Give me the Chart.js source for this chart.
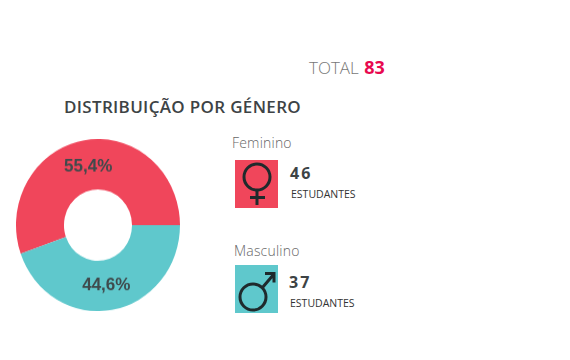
<!DOCTYPE html>
<html lang="pt">
<head>
<meta charset="utf-8">
<title>Distribuição por género</title>
<script src="https://cdn.jsdelivr.net/npm/chart.js@4"></script>
<style>
html, body { margin: 0; padding: 0; background: #fff; }
#page { position: relative; width: 570px; height: 360px; overflow: hidden; font-family: "Open Sans", sans-serif; }
#page div { position: absolute; white-space: nowrap; }
#donut { position: absolute; left: 16px; top: 139px; transform-origin: 0 0; transform: scaleY(1.05); }
#total { left: 309px; top: 55px; font-size: 17px; font-weight: 300; color: #777; }
#total b { color: #e8094f; font-weight: 700; font-size: 18px; margin-left: 1px; }
#title { left: 64px; top: 95px; font-size: 17px; font-weight: 600; color: #3d4345; letter-spacing: 0.33px; }
.name { font-size: 14px; font-weight: 300; color: #666; letter-spacing: 0.2px; }
.box { width: 43px; height: 48px; }
.box svg { display: block; }
.count { font-size: 16px; font-weight: 700; color: #3d4345; letter-spacing: 2px; }
.unit { font-size: 10.5px; color: #333; }
</style>
</head>
<body>
<div id="page">
  <canvas id="donut" width="164" height="164"></canvas>
  <div id="total"></div>
  <div id="title"></div>

  <div class="name" id="name0" style="left:232px;top:133px"></div>
  <div class="box" id="box0" style="left:235px;top:160px">
    <svg width="43" height="48" viewBox="0 0 43 48" fill="none" stroke="#1f2a2c" stroke-width="3">
      <circle cx="22" cy="17" r="13"></circle>
      <path d="M22 30V45M15 37.5H30"></path>
    </svg>
  </div>
  <div class="count" id="count0" style="left:290px;top:162px"></div>
  <div class="unit" id="unit0" style="left:291px;top:187px"></div>

  <div class="name" id="name1" style="left:234px;top:241px"></div>
  <div class="box" id="box1" style="left:235px;top:265px">
    <svg width="43" height="48" viewBox="0 0 43 48" fill="none" stroke="#1f2a2c" stroke-width="3">
      <circle cx="18" cy="32" r="13"></circle>
      <path d="M27.5 22.5L39 9M30 8.5H39V17.5"></path>
    </svg>
  </div>
  <div class="count" id="count1" style="left:289px;top:271px"></div>
  <div class="unit" id="unit1" style="left:290px;top:296px"></div>
</div>
<script>
const categories = ['Feminino', 'Masculino'];
const students = [46, 37];
const colors = ['#f0465b', '#5fc8cc'];
const titleText = 'DISTRIBUIÇÃO POR GÉNERO';
const unitText = 'ESTUDANTES';
const total = 83;

document.getElementById('total').innerHTML = 'TOTAL <b>' + total + '</b>';
document.getElementById('title').textContent = titleText;
categories.forEach((name, i) => {
    document.getElementById('name' + i).textContent = name;
    document.getElementById('box' + i).style.background = colors[i];
    document.getElementById('count' + i).textContent = students[i];
    document.getElementById('unit' + i).textContent = unitText;
});

// percentages sit in the middle of each ring segment
const percentLabels = {
    id: 'percentLabels',
    afterDatasetsDraw(chart) {
        const ctx = chart.ctx;
        const arcs = chart.getDatasetMeta(0).data;
        ctx.save();
        ctx.font = 'bold 17px "Liberation Sans", sans-serif';
        ctx.fillStyle = '#3f4a4c';
        ctx.textAlign = 'center';
        ctx.textBaseline = 'middle';
        arcs.forEach((arc, i) => {
            const p = arc.getCenterPoint();
            const pct = (students[i] / total * 100).toFixed(1).replace('.', ',') + '%';
            ctx.fillText(pct, p.x - (i ? 1.5 : 0), p.y + (i ? 0 : 1));
        });
        ctx.restore();
    }
};

new Chart(document.getElementById('donut').getContext('2d'), {
    type: 'doughnut',
    data: {
        labels: categories,
        datasets: [{
            data: students,
            backgroundColor: colors,
            borderWidth: 0
        }]
    },
    options: {
        responsive: false,
        animation: false,
        rotation: 250.5,
        cutout: '41.5%',
        layout: { padding: 0 },
        plugins: {
            legend: { display: false },
            tooltip: { enabled: false }
        }
    },
    plugins: [percentLabels]
});
</script>
</body>
</html>
